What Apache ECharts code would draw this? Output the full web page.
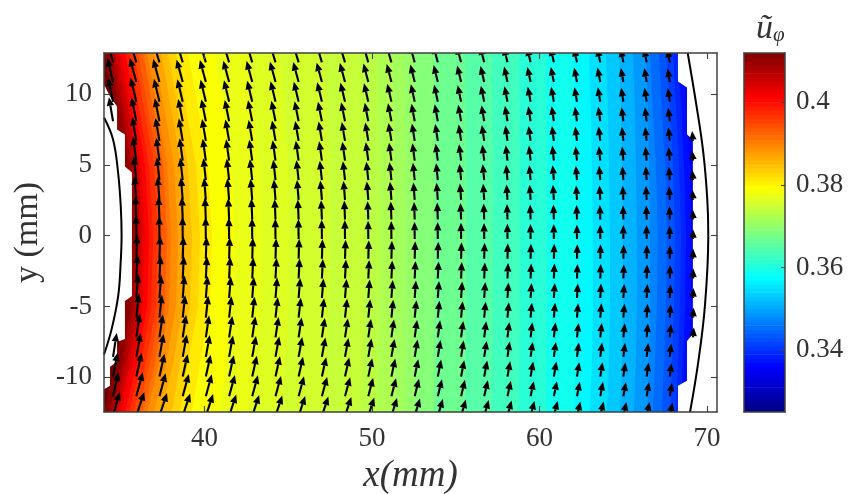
<!DOCTYPE html>
<html><head><meta charset="utf-8">
<style>html,body{margin:0;padding:0;background:#fff}#c{width:849px;height:494px}#c canvas{filter:blur(0.55px)}</style>
<script src="https://cdn.jsdelivr.net/npm/echarts@6/dist/echarts.min.js"></script>
</head><body><div id="c"></div>
<script>
// --- data ---
const xTicks = [40, 50, 60, 70];
const yTicks = [-10, -5, 0, 5, 10];
const cbTicks = [0.34, 0.36, 0.38, 0.4];
const xRange = [34, 70.6];
const yRange = [-12.45, 12.9];
const cbRange = [0.325, 0.4119];
const isoRows = [12.9, 9, 5, 0, -5, -9, -12.45];
const levels = [.334,.336,.338,.34,.342,.344,.346,.348,.35,.352,.354,.356,.358,.36,.362,.364,.366,.368,.37,.371,.372,.373,.374,.375,.376,.377,.378,.38,.382,.384,.386,.388,.39,.392,.394,.396,.398,.4,.402,.404,.406,.408,.41,.412];
const isoX = [
[68.98,69.16,69.34,69.46,69.40,69.28,69.16],
[68.62,68.80,68.98,69.10,69.04,68.92,68.80],
[68.27,68.45,68.63,68.75,68.69,68.57,68.45],
[67.97,68.15,68.33,68.45,68.39,68.27,68.15],
[67.61,67.79,67.97,68.09,68.03,67.91,67.79],
[67.13,67.31,67.49,67.61,67.55,67.43,67.31],
[66.59,66.77,66.95,67.07,67.01,66.89,66.77],
[66.36,66.48,66.54,66.60,66.60,66.54,66.42],
[65.58,65.70,65.76,65.82,65.82,65.76,65.64],
[64.75,64.87,64.93,64.99,64.99,64.93,64.81],
[63.97,64.09,64.15,64.21,64.21,64.15,64.03],
[62.95,63.07,63.13,63.19,63.19,63.13,63.01],
[62.00,62.12,62.18,62.24,62.24,62.18,62.06],
[60.39,60.42,60.45,60.45,60.45,60.42,60.39],
[58.78,58.81,58.84,58.84,58.84,58.81,58.78],
[57.16,57.19,57.22,57.22,57.22,57.19,57.16],
[55.55,55.58,55.61,55.61,55.61,55.58,55.55],
[53.70,53.73,53.76,53.76,53.76,53.73,53.70],
[52.51,52.54,52.57,52.57,52.57,52.54,52.51],
[51.91,51.94,51.97,51.97,51.97,51.94,51.91],
[51.25,51.31,51.35,51.37,51.35,51.31,51.25],
[50.30,50.39,50.44,50.48,50.44,50.39,50.30],
[49.30,49.44,49.52,49.58,49.52,49.44,49.30],
[47.13,47.31,47.43,47.49,47.43,47.31,47.13],
[44.50,44.80,45.00,45.10,45.04,44.85,44.60],
[42.53,42.93,43.28,43.43,43.33,43.03,42.63],
[40.62,41.12,41.62,41.82,41.70,41.32,40.82],
[39.02,39.61,40.21,40.45,40.33,39.73,39.25],
[38.30,38.89,39.49,39.73,39.61,39.01,38.53],
[37.82,38.41,39.01,39.25,39.13,38.53,38.05],
[37.41,38.00,38.60,38.84,38.72,38.12,37.41],
[36.99,37.58,38.18,38.42,38.30,37.70,36.99],
[36.57,37.16,37.76,38.00,37.88,37.28,36.57],
[36.33,36.92,37.52,37.76,37.64,37.04,36.33],
[36.03,36.62,37.22,37.46,37.34,36.74,36.03],
[35.79,36.38,36.98,37.22,37.10,36.50,35.79],
[35.50,36.09,36.69,36.93,36.81,36.21,35.50],
[35.26,35.85,36.45,36.69,36.57,35.97,35.26],
[35.02,35.61,36.21,36.45,36.33,35.73,35.02],
[34.84,35.43,36.03,36.27,36.15,35.55,34.84],
[34.66,35.25,35.85,36.09,35.97,35.37,34.66],
[34.48,35.07,35.67,35.91,35.79,35.19,34.48],
[34.30,34.89,35.49,35.73,35.61,35.01,34.30],
[34.00,34.59,35.19,35.43,35.31,34.71,34.00]];
const cbEdges = [.325,.326,.327,.328,.329,.33,.331,.332,.333,.334,.335,.336,.337,.338,.339,.34,.341,.342,.343,.344,.345,.346,.347,.348,.349,.35,.351,.352,.353,.354,.355,.356,.357,.358,.359,.36,.361,.362,.363,.364,.365,.366,.367,.368,.369,.37,.371,.372,.373,.374,.375,.376,.377,.378,.379,.38,.381,.382,.383,.384,.385,.386,.387,.388,.389,.39,.391,.392,.393,.394,.395,.396,.397,.398,.399,.4,.401,.402,.403,.404,.405,.406,.407,.408,.409,.41,.411,.4119];
const maskLeft = [[34,10.6],[34.06,10.53],[34.36,9.82],[34.78,9.12],[34.78,7.5],[35.25,7.15],[35.25,4.89],[35.67,4.47],[35.67,-4.26],[35.25,-4.61],[35.25,-7.29],[34.78,-7.5],[34.78,-8.91],[34.36,-9.26],[34.36,-10.6],[34.06,-10.81],[34,-10.85]];
const maskRight = [[68.27,12.9],[68.27,10.88],[68.81,10.46],[68.81,7.15],[69.16,6.8],[69.16,-6.94],[68.81,-7.43],[68.81,-10.25],[68.27,-10.6],[68.27,-12.45],[70.6,-12.45],[70.6,12.9]];
const arcLeft = [[34.0,8.35],[34.54,6.8],[34.84,4.47],[35.0,2.08],[35.05,0],[34.99,-2],[34.85,-4.24],[34.46,-6.58],[34.0,-8.4]];
const arcRight = [[68.85,12.9],[69.38,9.14],[69.78,5.88],[70.02,2.57],[70.08,0],[69.88,-4.94],[69.48,-8.93],[68.99,-12.45]];
const arrowX = [34.54,35.93,37.31,38.70,40.08,41.47,42.85,44.24,45.62,47.01,48.39,49.78,51.16,52.55,53.93,55.32,56.70,58.09,59.47,60.86,62.24,63.63,65.01,66.40,67.78,69.17];
const arrowY = [12.24,10.85,9.46,8.08,6.69,5.30,3.92,2.53,1.14,-0.24,-1.63,-3.02,-4.40,-5.79,-7.18,-8.56,-9.95,-11.34,-12.73];
// arrow length (mm along y) per column; lean (dx/dy) per row; lean scale per column
const colLen = [1.69,1.69,1.62,1.58,1.55,1.51,1.48,1.44,1.41,1.37,1.34,1.30,1.27,1.23,1.20,1.16,1.13,1.09,1.06,1.06,1.02,1.02,0.99,0.99,0.95,0.70];
const rowLean = [-.30,-.27,-.24,-.20,-.17,-.14,-.11,-.08,-.04,-.01,.03,.05,.08,.11,.15,.18,.22,.27,.33];
const colLeanScale = [.85,1,1,1,1,1,1,1,1,1,1,.97,.95,.92,.9,.87,.85,.8,.78,.75,.72,.7,.66,.62,.6,.55];
const col0Rows = [0,1,2,3,15,16,17,18];
const col25Rows = [4,5,6,7,8,9,10,11,12,13,14];

function jet(u){
  const t=(u-cbRange[0])/(cbRange[1]-cbRange[0]);
  const c=v=>Math.round(255*Math.max(0,Math.min(1,1.5-Math.abs(4*t-v))));
  return 'rgb('+c(3)+','+c(2)+','+c(1)+')';
}
const axisColor='#404040', textColor='#333';
const serif='"Liberation Serif","DejaVu Serif",serif';
function renderBands(params,api){
  const idx=api.value(0);
  const pts=[];
  if(idx===levels.length){
    pts.push(api.coord([xRange[0],yRange[1]]),api.coord([xRange[0],yRange[0]]));
  } else {
    isoRows.forEach((y,r)=>pts.push(api.coord([isoX[idx][r],y])));
  }
  pts.push(api.coord([xRange[1],yRange[0]]),api.coord([xRange[1],yRange[1]]));
  const u=idx===levels.length?0.413:(idx===0?0.333:(levels[idx]+levels[idx-1])/2);
  return {type:'polygon',shape:{points:pts},style:{fill:jet(u)}};
}
function renderMask(params,api){
  const src=api.value(0)===0?maskLeft:maskRight;
  return {type:'polygon',shape:{points:src.map(p=>api.coord(p))},style:{fill:'#fff'}};
}
const arrowItems=[];
arrowX.forEach((x,c)=>arrowY.forEach((y,r)=>{
  if(c===0&&col0Rows.indexOf(r)<0) return;
  if(c===25&&col25Rows.indexOf(r)<0) return;
  arrowItems.push([x,y,rowLean[r]*colLeanScale[c]*colLen[c]*0.848,colLen[c]]);
}));
function renderArrow(params,api){
  const x=api.value(0),y=api.value(1),u=api.value(2),v=api.value(3);
  const a=api.coord([x,y]),b=api.coord([x+u,y+v]);
  const dx=b[0]-a[0],dy=b[1]-a[1],L=Math.hypot(dx,dy)||1;
  const ux=dx/L,uy=dy/L,hl=8.5,hw=3.7;
  const bx=b[0]-ux*hl,by=b[1]-uy*hl;
  return {type:'group',children:[
    {type:'line',shape:{x1:a[0],y1:a[1],x2:bx,y2:by},style:{stroke:'#000',lineWidth:2.1}},
    {type:'polygon',shape:{points:[b,[bx-uy*hw,by+ux*hw],[bx+uy*hw,by-ux*hw]]},style:{fill:'#000'}}
  ]};
}
function renderCb(params,api){
  const i=api.value(0);
  const p0=api.coord([0,cbEdges[i]]),p1=api.coord([1,cbEdges[i+1]]);
  return {type:'rect',shape:{x:p0[0],y:p1[1],width:p1[0]-p0[0],height:p0[1]-p1[1]+0.6},style:{fill:jet((cbEdges[i]+cbEdges[i+1])/2)}};
}
const tickCommon={show:true,inside:true,length:6,lineStyle:{color:axisColor,width:1.1}};
const lineCommon={show:true,onZero:false,lineStyle:{color:axisColor,width:1.5}};
const labelCommon={color:textColor,fontFamily:serif,fontSize:27};
const option={
  animation:false,backgroundColor:'#fff',
  title:{text:'{u|ũ}{s|φ}',left:751,top:7,textStyle:{fontWeight:'normal',rich:{
    u:{fontFamily:serif,fontStyle:'italic',fontWeight:'normal',fontSize:34,color:textColor},
    s:{fontFamily:serif,fontStyle:'italic',fontWeight:'normal',fontSize:21,color:textColor,verticalAlign:'bottom',padding:[10,0,0,0]}}}},
  grid:[{left:104,top:53,width:613,height:359,outerBoundsMode:'none',containLabel:false},{left:744,top:53,width:41,height:359,outerBoundsMode:'none',containLabel:false}],
  xAxis:[
    {type:'value',gridIndex:0,position:'bottom',min:xRange[0],max:xRange[1],z:10,splitLine:{show:false},
     axisLine:lineCommon,axisTick:Object.assign({customValues:xTicks},tickCommon),
     axisLabel:Object.assign({customValues:xTicks,margin:13,formatter:v=>String(v)},labelCommon),
     name:'x(mm)',nameLocation:'middle',nameGap:46,nameTextStyle:{fontFamily:serif,fontStyle:'italic',fontSize:37,color:textColor}},
    {type:'value',gridIndex:0,position:'top',min:xRange[0],max:xRange[1],z:10,splitLine:{show:false},
     axisLine:lineCommon,axisTick:Object.assign({customValues:xTicks},tickCommon),axisLabel:{show:false}},
    {type:'value',gridIndex:1,position:'bottom',min:0,max:1,z:10,splitLine:{show:false},axisLine:lineCommon,axisTick:{show:false},axisLabel:{show:false}},
    {type:'value',gridIndex:1,position:'top',min:0,max:1,z:10,splitLine:{show:false},axisLine:lineCommon,axisTick:{show:false},axisLabel:{show:false}}
  ],
  yAxis:[
    {type:'value',gridIndex:0,position:'left',min:yRange[0],max:yRange[1],z:10,splitLine:{show:false},
     axisLine:lineCommon,axisTick:Object.assign({customValues:yTicks},tickCommon),
     axisLabel:Object.assign({customValues:yTicks,margin:12,formatter:v=>String(v)},labelCommon),
     name:'y (mm)',nameLocation:'middle',nameGap:56,nameTextStyle:{fontFamily:serif,fontSize:34,color:textColor}},
    {type:'value',gridIndex:0,position:'right',min:yRange[0],max:yRange[1],z:10,splitLine:{show:false},
     axisLine:lineCommon,axisTick:Object.assign({customValues:yTicks},tickCommon),axisLabel:{show:false}},
    {type:'value',gridIndex:1,position:'right',min:cbRange[0],max:cbRange[1],z:10,splitLine:{show:false},
     axisLine:lineCommon,axisTick:Object.assign({customValues:cbTicks},tickCommon,{length:4}),
     axisLabel:Object.assign({customValues:cbTicks,margin:11,formatter:v=>String(+v.toFixed(2))},labelCommon)},
    {type:'value',gridIndex:1,position:'left',min:cbRange[0],max:cbRange[1],z:10,splitLine:{show:false},
     axisLine:lineCommon,axisTick:{show:false},axisLabel:{show:false}}
  ],
  series:[
    {type:'custom',xAxisIndex:0,yAxisIndex:0,z:2,clip:true,silent:true,renderItem:renderBands,
     data:levels.map((l,i)=>[i]).concat([[levels.length]]).reverse()},
    {type:'custom',xAxisIndex:0,yAxisIndex:0,z:3,clip:true,silent:true,renderItem:renderMask,data:[[0],[1]]},
    {type:'line',xAxisIndex:0,yAxisIndex:0,z:4,clip:true,silent:true,smooth:0.4,showSymbol:false,lineStyle:{color:'#000',width:2},data:arcLeft},
    {type:'line',xAxisIndex:0,yAxisIndex:0,z:4,clip:true,silent:true,smooth:0.4,showSymbol:false,lineStyle:{color:'#000',width:2},data:arcRight},
    {type:'custom',xAxisIndex:0,yAxisIndex:0,z:5,clip:true,silent:true,renderItem:renderArrow,data:arrowItems},
    {type:'custom',xAxisIndex:2,yAxisIndex:2,z:2,clip:true,silent:true,renderItem:renderCb,
     data:cbEdges.slice(0,-1).map((e,i)=>[i])}
  ]
};
echarts.init(document.getElementById('c'),null,{renderer:'canvas'}).setOption(option);
</script></body></html>
